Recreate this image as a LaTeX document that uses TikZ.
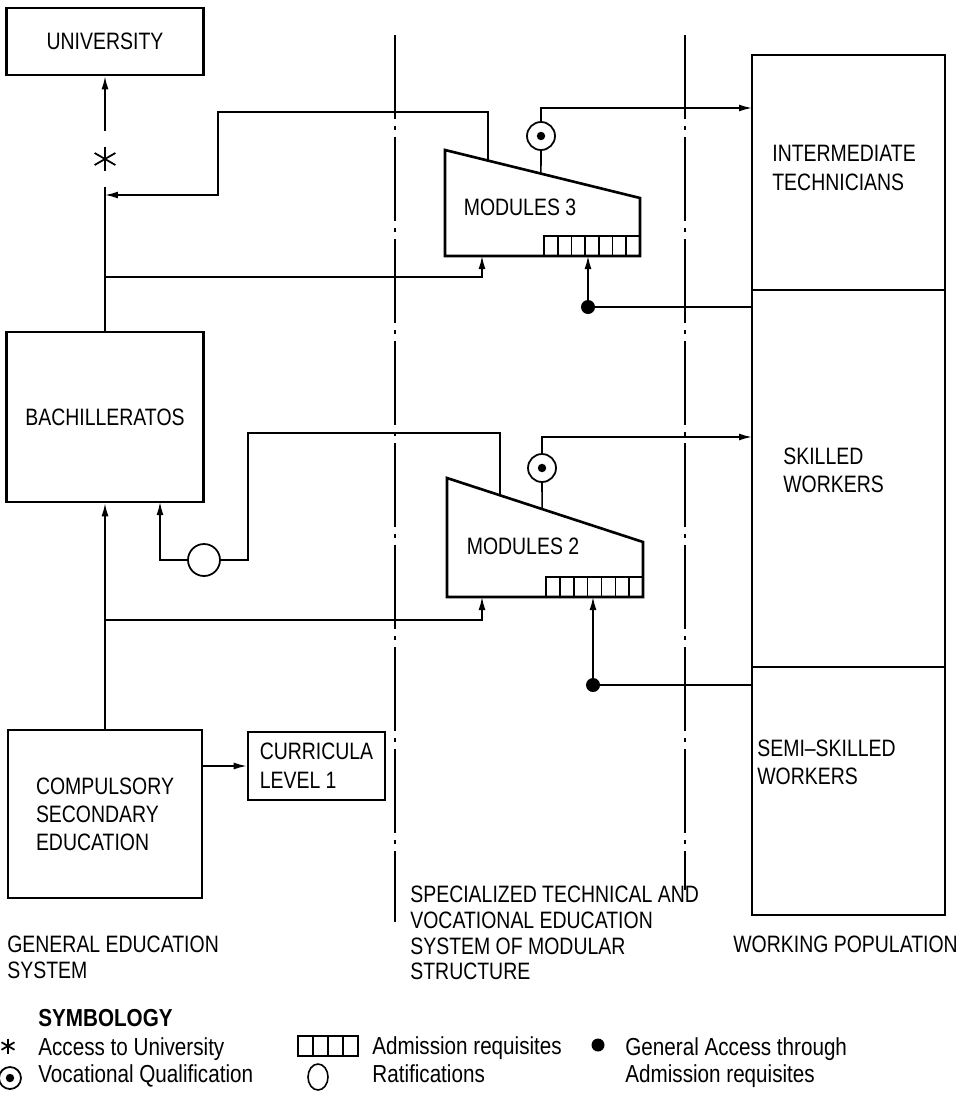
\documentclass[tikz,border=0pt]{standalone}
\usepackage{fontspec}
\setmainfont[FakeStretch=0.82]{Liberation Sans}
\newfontfamily\legfont[FakeStretch=0.84]{Liberation Sans}
\usetikzlibrary{arrows.meta, calc}

\begin{document}
\begin{tikzpicture}[x=0.02cm, y=-0.02cm,
    font=\fontsize{13.5}{16}\selectfont,
    box/.style={draw,line width=1.5pt,inner sep=0pt,align=left},
    col/.style={draw,line width=1.5pt,minimum width=3.86cm,inner sep=0pt},
    mod/.style={line width=1.5pt,line join=miter},
    lbl/.style={align=left,inner sep=0pt,anchor=west},
    caption/.style={lbl,anchor=north west,font=\fontsize{13.5}{14.6}\selectfont},
    legend/.style={inner sep=0pt,anchor=base west,font=\legfont\fontsize{14}{16}\selectfont},
    line/.style={line width=0.9pt},
    arr/.style={line,-{Latex[length=2.6mm,width=1.4mm]}},
    divider/.style={line width=1.1pt,dash pattern=on 1.68cm off 0.14cm on 0.08cm off 0.14cm},
    vq/.style={circle,draw,line width=1pt,minimum size=0.56cm,inner sep=0pt,
      path picture={\fill (path picture bounding box.center) circle (2.4pt);}},
    rat/.style={circle,draw,line width=1pt,minimum size=0.64cm,inner sep=0pt},
    gen/.style={circle,fill,minimum size=0.28cm,inner sep=0pt},
    ast/.style={minimum size=#1,inner sep=0pt,
      path picture={\foreach \a in {90,30,150}
        \draw[line width=1pt] ($(path picture bounding box.center)+(\a:0.5*#1)$)
          -- ($(path picture bounding box.center)+(\a+180:0.5*#1)$);}}]
  \useasboundingbox (0,0) rectangle (976,1099);

  % section dividers
  \draw[divider] (395,35) -- (395,922);
  \draw[divider] (685,35) -- (685,890);

  % general education system
  \node[box,minimum width=3.94cm,minimum height=1.34cm,align=center] (univ) at (105,41.5) {UNIVERSITY};
  \node[box,minimum width=3.94cm,minimum height=3.4cm,align=center] (bach) at (105,417) {BACHILLERATOS};
  \node[box,minimum width=3.88cm,minimum height=3.36cm] (comp) at (105,814) {COMPULSORY\\SECONDARY\\EDUCATION};
  \node[box,minimum width=2.74cm,minimum height=1.36cm,font=\fontsize{13.5}{16.5}\selectfont] (curr) at (316.5,766) {CURRICULA\\LEVEL 1};
  \node[ast=0.48cm,outer ysep=0.32cm] (acc) at (105,159) {};

  % working population
  \node[col,minimum height=4.7cm] (inter) at (848.5,172.5) {};
  \node[col,minimum height=7.54cm] (skill) at (848.5,478.5) {};
  \node[col,minimum height=4.96cm] (semi) at (848.5,791) {};
  \node[lbl,font=\fontsize{13.5}{16.8}\selectfont] (inter-t) at (772,168) {INTERMEDIATE\\TECHNICIANS};
  \node[lbl] (skill-t) at (783,470) {SKILLED\\WORKERS};
  \node[lbl] (semi-t) at (757,762) {SEMI--SKILLED\\WORKERS};

  % modules 3
  \coordinate (m3tl) at (445,150); \coordinate (m3tr) at (640,198);
  \coordinate (m3br) at (640,256); \coordinate (m3bl) at (445,256);
  \draw[mod] (m3tl) -- (m3tr) -- (m3br) -- (m3bl) -- cycle;
  \draw[line] (544,236) rectangle (640,256);
  \foreach \i in {1,...,6} \draw[line] (544+13.71*\i,236) -- ++(0,20);
  \node (m3t) at (520,207) {MODULES 3};
  \coordinate (m3a) at ($(m3tl)!0.22!(m3tr)$);
  \coordinate (m3v) at ($(m3tl)!0.492!(m3tr)$);
  \coordinate (m3b) at (482,256);
  \coordinate (m3g) at (588,256);

  % modules 2
  \coordinate (m2tl) at (447,478); \coordinate (m2tr) at (643,542);
  \coordinate (m2br) at (643,597); \coordinate (m2bl) at (447,597);
  \draw[mod] (m2tl) -- (m2tr) -- (m2br) -- (m2bl) -- cycle;
  \draw[line] (546,577) rectangle (643,597);
  \foreach \i in {1,...,6} \draw[line] (546+13.86*\i,577) -- ++(0,20);
  \node (m2t) at (523,546) {MODULES 2};
  \coordinate (m2a) at ($(m2tl)!0.27!(m2tr)$);
  \coordinate (m2v) at ($(m2tl)!0.485!(m2tr)$);
  \coordinate (m2b) at (482,597);
  \coordinate (m2g) at (593,597);

  % symbols on the routes
  \node[vq] (v3) at (541,136) {};
  \node[vq] (v2) at (542,468) {};
  \node[gen] (g3) at (588,307) {};
  \node[gen] (g2) at (593,685) {};
  \node[rat] (r) at (204,560) {};
  \coordinate (j3) at (105,195);
  \coordinate (b3) at (105,277);
  \coordinate (b2) at (105,620);
  \coordinate (ba2) at (160,502);
  \coordinate (i3) at (752,108);
  \coordinate (i2) at (752,437);

  % connectors
  \draw[arr] (acc.north) -- (univ.south);
  \draw[line] (bach.north) -- (acc.south);
  \draw[arr] (comp.north) -- (bach.south);
  \draw[arr] (comp.east |- curr.west) -- (curr.west);
  \draw[arr] (m3a) |- (218,112) |- (j3);
  \draw[arr] (b3) -| (m3b);
  \draw[line] (m3v) -- (v3);
  \draw[arr] (v3) |- (i3);
  \draw[arr] (g3) -- (m3g);
  \draw[line] (g3) -- (g3 -| skill.west);
  \draw[arr] (b2) -| (m2b);
  \draw[line] (m2a) |- (248,433) |- (r);
  \draw[arr] (r) -| (ba2);
  \draw[line] (m2v) -- (v2);
  \draw[arr] (v2) |- (i2);
  \draw[arr] (g2) -- (m2g);
  \draw[line] (g2) -- (g2 -| semi.west);

  % captions
  \node[caption] (gen-t) at (7,936) {GENERAL EDUCATION\\SYSTEM};
  \node[caption] (spec-t) at (410,886) {SPECIALIZED TECHNICAL AND\\VOCATIONAL EDUCATION\\SYSTEM OF MODULAR\\STRUCTURE};
  \node[caption] (work-t) at (733,936) {WORKING POPULATION};

  % symbology
  \node[legend,font=\legfont\fontsize{14}{16}\selectfont\bfseries] (sym-t) at (38,1026) {SYMBOLOGY};
  \node[ast=0.3cm] (lg-acc) at (8,1046) {};
  \node[legend] (lg-acc-t) at (38,1055) {Access to University};
  \node[vq,minimum size=0.44cm] (lg-vq) at (10,1078) {};
  \node[legend] (lg-vq-t) at (38,1082) {Vocational Qualification};
  \draw[line] (298,1036) rectangle (358,1056);
  \foreach \i in {1,2,3} \draw[line] (298+15*\i,1036) -- ++(0,20);
  \node[legend] (lg-adm-t) at (372,1054) {Admission requisites};
  \draw[line] (318,1077) ellipse [x radius=0.2cm,y radius=0.26cm];
  \node[legend] (lg-rat-t) at (372,1082) {Ratifications};
  \node[gen,minimum size=0.26cm] (lg-gen) at (598,1045) {};
  \node[legend] (lg-gen-t) at (625,1055) {General Access through};
  \node[legend] (lg-gen-t2) at (625,1082) {Admission requisites};
\end{tikzpicture}
\end{document}
